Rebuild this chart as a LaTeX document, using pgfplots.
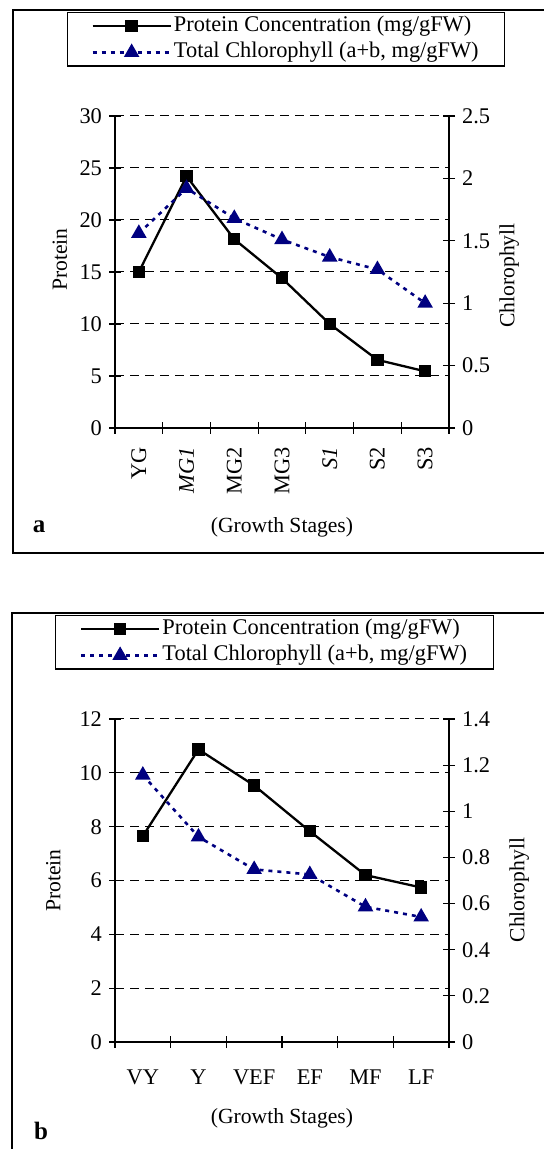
\documentclass[border=0pt]{standalone}
\usepackage{fontspec}
\setmainfont{Liberation Serif}
\usepackage{pgfplots}
\pgfplotsset{compat=1.18}
\definecolor{chlnavy}{RGB}{0,0,128}
\newcommand\fs{\fontsize{11.2}{13.4}\selectfont}
\newcommand\lfs{\fontsize{10.8}{13}\selectfont}

\pgfplotsset{
  stagebase/.style={
    scale only axis, width=167pt,
    tick align=center, major tick length=6pt, minor tick length=6pt,
    tick style={black, line width=0.6pt},
    axis line style={black, line width=0.9pt},
    /pgf/number format/assume math mode=true,
    ticklabel style={font=\fs},
  },
  protein/.style={black, line width=1.15pt, mark=square*, mark size=2.5pt, mark options={solid}},
  chloro/.style={chlnavy, line width=1.3pt, dash pattern=on 2pt off 2.5pt,
    mark=triangle*, mark size=3.2pt, mark options={solid}},
  stagelegend/.style={
    legend style={draw=black, line width=0.6pt, inner xsep=12pt, inner ysep=0.5pt,
      font=\fs, row sep=0.5pt, nodes={inner sep=1pt, text height=7.9pt, text depth=2.7pt}},
    legend cell align=left,
    legend image code/.code={
      \draw[mark repeat=2,mark phase=2,##1] plot coordinates {(0pt,0pt) (19.5pt,0pt) (39pt,0pt)};},
  },
  gridstyle/.style={ymajorgrids, major grid style={black, line width=0.5pt, dash pattern=on 4.5pt off 3pt}},
}

\begin{document}
\begin{tikzpicture}
\useasboundingbox (0pt,0pt) rectangle (272pt,574.5pt);
% frames round the two panels
\draw[line width=0.75pt] (280pt,569.5pt) -- (6.5pt,569.5pt) -- (6.5pt,298pt) -- (280pt,298pt);
\draw[line width=0.75pt] (280pt,268pt) -- (6pt,268pt) -- (6pt,-5pt);

% ---- panel a ----
\begin{axis}[stagebase, gridstyle, at={(57.5pt,360.5pt)}, anchor=south west, height=156pt,
    xmin=-0.5, xmax=6.5, ymin=0, ymax=30, ytick={0,5,...,30},
    axis y line*=left, axis x line*=bottom,
    xtick={0,...,6}, xticklabels={YG,\textit{MG1},MG2,MG3,\textit{S1},S2,S3},
    major x tick style={draw=none}, minor xtick={-0.5,0.5,...,6.5},
    xticklabel style={rotate=90, anchor=east}, xticklabel shift=3pt,
    ylabel={Protein}, xlabel={(Growth Stages)},
    every axis y label/.style={at={(axis description cs:-0.165,0.54)}, rotate=90, anchor=center, font=\lfs},
    every axis x label/.style={at={(axis description cs:0.5,-0.32)}, anchor=center, font=\lfs}]
\addplot[protein] coordinates {(0,15.0) (1,24.2) (2,18.15) (3,14.4) (4,10.0) (5,6.55) (6,5.45)};
\end{axis}
\begin{axis}[stagebase, stagelegend, at={(57.5pt,360.5pt)}, anchor=south west, height=156pt,
    xmin=-0.5, xmax=6.5, ymin=0, ymax=2.5, ytick={0,0.5,1,1.5,2,2.5},
    axis y line*=right, axis x line=none,
    ylabel={Chlorophyll},
    every axis y label/.style={at={(axis description cs:1.18,0.489)}, rotate=90, anchor=center, font=\lfs},
    legend style={at={(0.512,1.333)}, anchor=north}]
\addlegendimage{protein}
\addlegendentry{Protein Concentration (mg/gFW)}
\addplot[chloro] coordinates {(0,1.56) (1,1.92) (2,1.68) (3,1.51) (4,1.37) (5,1.27) (6,1.00)};
\addlegendentry{Total Chlorophyll (a+b, mg/gFW)}
\end{axis}
\node[font=\bfseries\fontsize{12.5}{14}\selectfont] at (19.5pt,311pt) {a};

% ---- panel b ----
\begin{axis}[stagebase, gridstyle, at={(57.5pt,53.5pt)}, anchor=south west, height=161.5pt,
    xmin=-0.5, xmax=5.5, ymin=0, ymax=12, ytick={0,2,...,12},
    axis y line*=left, axis x line*=bottom,
    xtick={0,...,5}, xticklabels={VY,Y,VEF,EF,MF,LF},
    major x tick style={draw=none}, minor xtick={-0.5,0.5,...,5.5},
    xticklabel style={anchor=north}, xticklabel shift=7.5pt,
    ylabel={Protein}, xlabel={(Growth Stages)},
    every axis y label/.style={at={(axis description cs:-0.185,0.5)}, rotate=90, anchor=center, font=\lfs},
    every axis x label/.style={at={(axis description cs:0.5,-0.235)}, anchor=center, font=\lfs}]
\addplot[protein] coordinates {(0,7.65) (1,10.87) (2,9.53) (3,7.83) (4,6.2) (5,5.74)};
\end{axis}
\begin{axis}[stagebase, stagelegend, at={(57.5pt,53.5pt)}, anchor=south west, height=161.5pt,
    xmin=-0.5, xmax=5.5, ymin=0, ymax=1.4, ytick={0,0.2,0.4,0.6,0.8,1,1.2,1.4},
    axis y line*=right, axis x line=none,
    ylabel={Chlorophyll},
    every axis y label/.style={at={(axis description cs:1.21,0.47)}, rotate=90, anchor=center, font=\lfs},
    legend style={at={(0.4775,1.322)}, anchor=north}]
\addlegendimage{protein}
\addlegendentry{Protein Concentration (mg/gFW)}
\addplot[chloro] coordinates {(0,1.157) (1,0.889) (2,0.748) (3,0.726) (4,0.586) (5,0.542)};
\addlegendentry{Total Chlorophyll (a+b, mg/gFW)}
\end{axis}
\node[font=\bfseries\fontsize{12.5}{14}\selectfont] at (20.5pt,9pt) {b};
\end{tikzpicture}
\end{document}
